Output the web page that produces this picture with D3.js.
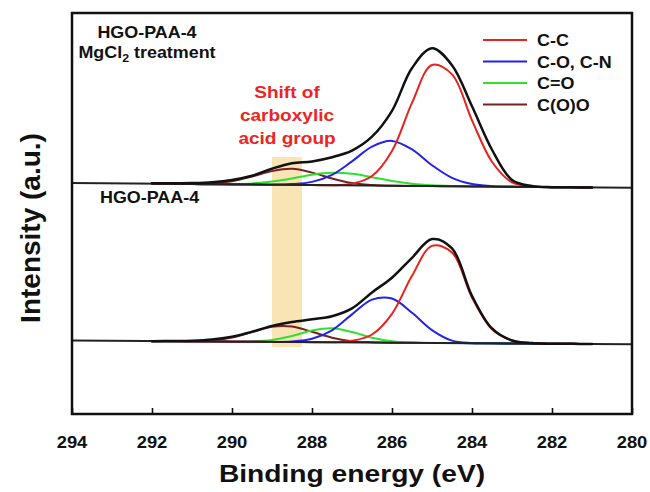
<!DOCTYPE html>
<html><head><meta charset="utf-8">
<script src="https://cdn.jsdelivr.net/npm/d3@7"></script>
<style>html,body{margin:0;padding:0;background:#fff}svg{display:block}</style>
</head><body>
<script>
// ---------- data ----------
const energies = [292,291.5,291,290.5,290,289.5,289,288.5,288,287.5,287,286.5,286,285.5,285,284.5,284,283.5,283,282.5,282,281.5,281];
const xTicks = [294,292,290,288,286,284,282,280];
const legendLabels = ["C-C","C-O, C-N","C=O","C(O)O"];
const seriesColors = ["#e8231f","#2323e6","#2fe02f","#7b2020"];

// background (baseline) of each stacked spectrum
const baselineEnergy = [294, 280];
const upperBaselineEnds = [57.6, 56.4];
const lowerBaselineEnds = [18.3, 17.4];
const upperBackground = [57.43,57.39,57.34,57.30,57.26,57.21,57.17,57.13,57.09,57.04,57.00,56.96,56.91,56.87,56.83,56.79,56.74,56.70,56.66,56.61,56.57,56.53,56.49];
const lowerBackground = [18.17,18.14,18.11,18.07,18.04,18.01,17.98,17.95,17.91,17.88,17.85,17.82,17.79,17.75,17.72,17.69,17.66,17.63,17.59,17.56,17.53,17.50,17.46];

// HGO-PAA-4 MgCl2 treatment (upper), heights above background
const upperTotal = [0.1,0.15,0.25,0.5,1.1,2.2,4.0,5.4,5.9,7.0,8.7,12.2,18.7,29.4,34.4,30.2,20.0,9.2,1.7,0.25,0,0,0];
const upperCC    = [0,0,0,0,0,0,0,0,0,0,0.4,2.4,8.7,20.7,30.2,27.9,16.5,6.2,1.1,0.2,0,0,0];
const upperCO    = [0,0,0,0,0,0,0,0.2,0.8,2.6,6.0,9.7,11.2,9.1,5.2,2.1,0.6,0.1,0,0,0,0,0];
const upperCdO   = [0,0,0,0,0.1,0.3,0.8,1.6,2.6,3.1,2.9,2.1,1.2,0.55,0.2,0.05,0,0,0,0,0,0,0];
const upperCOO   = [0,0,0.04,0.2,0.8,2.0,3.4,4.0,3.1,1.7,0.6,0.15,0,0,0,0,0,0,0,0,0,0,0];

// HGO-PAA-4 (lower), heights above background
const lowerTotal = [0,0.07,0.17,0.5,1.25,2.5,4.0,5.0,5.7,6.5,8.5,12.5,16.2,21.2,25.9,23.6,11.8,3.7,0.75,0.12,0,0,0];
const lowerCC    = [0,0,0,0,0,0,0,0,0,0,0.4,2.0,7.2,16.7,24.2,22.6,11.4,3.5,0.75,0.12,0,0,0];
const lowerCO    = [0,0,0,0,0,0,0,0.15,0.85,3.0,7.0,10.7,11.0,7.5,3.2,0.6,0.05,0,0,0,0,0,0];
const lowerCdO   = [0,0,0,0,0,0.1,0.5,1.5,2.9,3.5,2.6,1.2,0.35,0.05,0,0,0,0,0,0,0,0,0];
const lowerCOO   = [0,0,0.05,0.3,1.05,2.4,3.75,3.85,2.6,1.15,0.3,0.08,0,0,0,0,0,0,0,0,0,0,0];

// highlighted band "shift of carboxylic acid group"
const bandEnergy = [289.0, 288.25];
const bandIntensity = [16.7, 64.1];

// ---------- drawing ----------
const W = 650, H = 492;
const svg = d3.select("body").append("svg").attr("width", W).attr("height", H);
const x = d3.scaleLinear().domain([294, 280]).range([72, 632]);
const y = d3.scaleLinear().domain([0, 100]).range([414, 13]);
const FONT = "Liberation Sans, Arial, Helvetica, sans-serif";

function stretchedText(g, tx, ty, str, size, sx, opts = {}) {
  const t = g.append("text")
    .attr("transform", `translate(${tx},${ty}) scale(${sx},1)` + (opts.rotate ? ` rotate(${opts.rotate})` : ""))
    .attr("font-family", FONT).attr("font-weight", "bold").attr("font-size", size)
    .attr("fill", opts.fill || "#111")
    .attr("text-anchor", opts.anchor || "start");
  t.text(str);
  return t;
}

// band
svg.append("rect")
  .attr("x", x(bandEnergy[0])).attr("width", x(bandEnergy[1]) - x(bandEnergy[0]))
  .attr("y", y(bandIntensity[1])).attr("height", y(bandIntensity[0]) - y(bandIntensity[1]))
  .attr("fill", "#f8e4b4");

const curve = d3.curveCatmullRom.alpha(0.5);
function drawSeries(vals, bg, color, width) {
  const line = d3.line()
    .x((d, i) => x(energies[i]))
    .y((d, i) => y(bg[i] + d))
    .curve(curve);
  svg.append("path").attr("d", line(vals))
    .attr("fill", "none").attr("stroke", color).attr("stroke-width", width)
    .attr("stroke-linejoin", "round").attr("stroke-linecap", "round");
}

const panels = [
  {bg: upperBackground, ends: upperBaselineEnds, total: upperTotal, comps: [upperCC, upperCO, upperCdO, upperCOO]},
  {bg: lowerBackground, ends: lowerBaselineEnds, total: lowerTotal, comps: [lowerCC, lowerCO, lowerCdO, lowerCOO]}
];
panels.forEach(p => {
  [3, 2, 1, 0].forEach(k => drawSeries(p.comps[k], p.bg, seriesColors[k], 2));
  svg.append("line")
    .attr("x1", x(baselineEnergy[0])).attr("x2", x(baselineEnergy[1]))
    .attr("y1", y(p.ends[0])).attr("y2", y(p.ends[1]))
    .attr("stroke", "#222").attr("stroke-width", 2);
  drawSeries(p.total, p.bg, "#111", 2.5);
});

// frame
svg.append("rect").attr("x", 72).attr("y", 13).attr("width", 560).attr("height", 401)
  .attr("fill", "none").attr("stroke", "#111").attr("stroke-width", 2.5);

// bottom axis ticks (inward)
const axis = d3.axisBottom(x).tickValues(xTicks).tickSize(-6).tickFormat("");
const ag = svg.append("g").attr("transform", "translate(0,414)").call(axis);
ag.select(".domain").remove();
ag.selectAll("line").attr("stroke", "#111").attr("stroke-width", 1.6);
xTicks.forEach(v => stretchedText(svg, x(v), 447.5, String(v), 17, 1.08, {anchor: "middle"}));

// axis titles
stretchedText(svg, 352, 482, "Binding energy (eV)", 23.5, 1.2, {anchor: "middle"});
stretchedText(svg, 40, 228, "Intensity (a.u.)", 28, 1.0, {anchor: "middle", rotate: -90});

// sample labels
stretchedText(svg, 147, 38, "HGO-PAA-4", 16, 1.12, {anchor: "middle"});
const mg = svg.append("text").attr("transform", "translate(147,58) scale(1.12,1)")
  .attr("font-family", FONT).attr("font-weight", "bold").attr("font-size", 16)
  .attr("fill", "#111").attr("text-anchor", "middle");
mg.append("tspan").text("MgCl");
mg.append("tspan").attr("font-size", 11).attr("dy", 4).text("2");
mg.append("tspan").attr("dy", -4).text(" treatment");
stretchedText(svg, 100, 203, "HGO-PAA-4", 16, 1.12);

// red annotation
["Shift of", "carboxylic", "acid group"].forEach((s, i) =>
  stretchedText(svg, 287, 98 + i * 23, s, 17, 1.12, {anchor: "middle", fill: "#ec2424"}));

// legend
legendLabels.forEach((lab, i) => {
  const ly = 40 + i * 21.5;
  svg.append("line").attr("x1", 483).attr("x2", 527).attr("y1", ly).attr("y2", ly)
    .attr("stroke", seriesColors[i]).attr("stroke-width", 2.2);
  stretchedText(svg, 537, ly + 6, lab, 16, 1.12);
});
</script>
</body></html>
